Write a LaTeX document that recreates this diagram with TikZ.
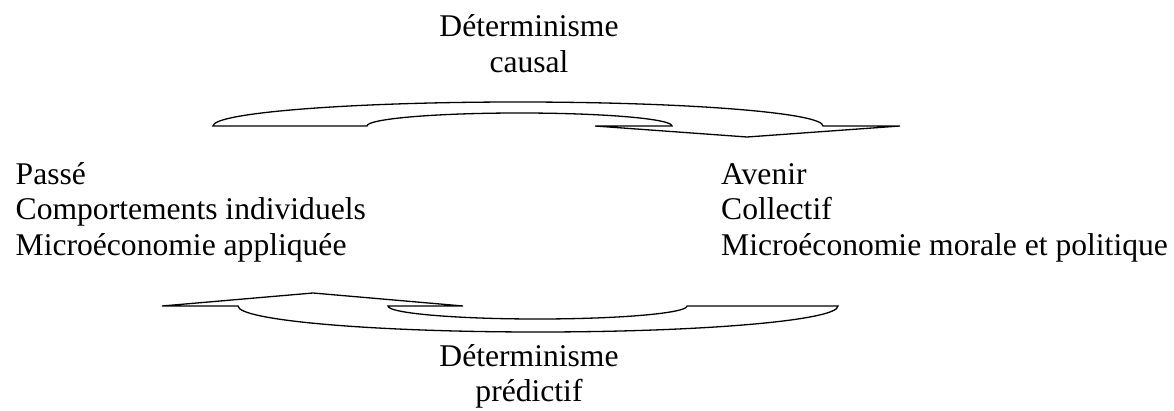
\documentclass[tikz,border=0pt]{standalone}
\usepackage{fontspec}
\setmainfont{Liberation Serif}
\begin{document}
\begin{tikzpicture}[x=1pt,y=1pt,
  txt/.style={inner sep=0pt, font=\fontsize{31.6pt}{35.5pt}\selectfont},
  lefttxt/.style={txt, anchor=base west},
  midtxt/.style={txt, anchor=base},
  bigarrow/.style={draw=black, line width=1.3pt, line join=miter, fill=white}]
\useasboundingbox (0,0) rectangle (1174,410);

% top curved arrow (to the right)
\coordinate (t1) at (213,284);
\coordinate (t2) at (367,284);
\coordinate (t3) at (595,284);
\coordinate (ttip) at (747,273);
\coordinate (t4) at (900,284);
\coordinate (t5) at (823,284);
\draw[bigarrow] (t1) -- (t2)
  arc[start angle=180, end angle=0, x radius=152.5, y radius=13]
  -- (t3) -- (ttip) -- (t4) -- (t5)
  arc[start angle=0, end angle=180, x radius=305, y radius=24] -- cycle;

% bottom curved arrow (to the left)
\coordinate (b1) at (162,104);
\coordinate (b2) at (238,104);
\coordinate (b3) at (687,104);
\coordinate (b4) at (388,104);
\coordinate (b5) at (463,104);
\coordinate (btip) at (313,117);
\draw[bigarrow] (b1) -- (b2)
  arc[start angle=180, end angle=360, x radius=300, y radius=26]
  -- (b3)
  arc[start angle=0, end angle=-180, x radius=149.5, y radius=13]
  -- (b5) -- (btip) -- cycle;

% texts
\node[midtxt] (dc1) at (529,373) {Déterminisme};
\node[midtxt] (dc2) at (529,337.5) {causal};
\node[midtxt] (dp1) at (529,44) {Déterminisme};
\node[midtxt] (dp2) at (529,8.5) {prédictif};

\node[lefttxt] (l1) at (15.5,225.5) {Passé};
\node[lefttxt] (l2) at (15.5,190) {Comportements individuels};
\node[lefttxt] (l3) at (15.5,154.5) {Microéconomie appliquée};

\node[lefttxt] (r1) at (721,225.5) {Avenir};
\node[lefttxt] (r2) at (721,190) {Collectif};
\node[lefttxt] (r3) at (721,154.5) {Microéconomie morale et politique};
\end{tikzpicture}
\end{document}
